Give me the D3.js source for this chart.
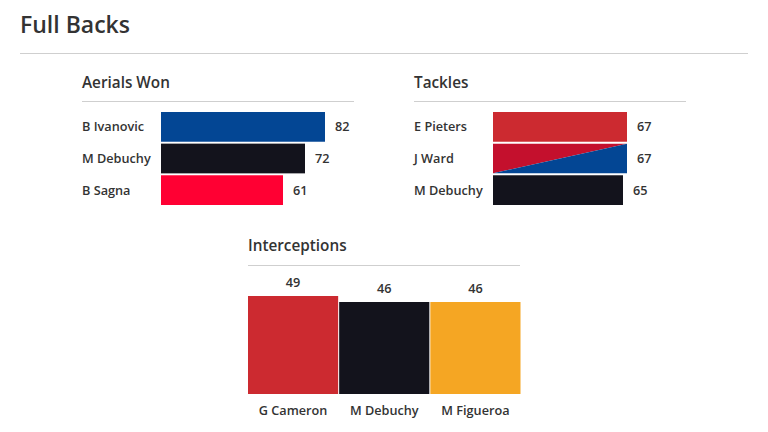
<!DOCTYPE html>
<html><head><meta charset="utf-8">
<script src="https://cdn.jsdelivr.net/npm/d3@7"></script>
<style>
body{margin:0;background:#fff;}
text{font-family:"Open Sans",Lato,sans-serif;}
</style></head>
<body><svg id="c" width="768" height="432"></svg>
<script>
const chartTitle = "Full Backs";
const aerialsTitle = "Aerials Won";
const aerialsPlayers = ["B Ivanovic","M Debuchy","B Sagna"];
const aerialsValues = [82,72,61];
const aerialsColors = ["#034694","#13131c","#ff0033"];
const tacklesTitle = "Tackles";
const tacklesPlayers = ["E Pieters","J Ward","M Debuchy"];
const tacklesValues = [67,67,65];
const tacklesColors = ["#cc2a30",["#c4102d","#034694"],"#13131c"];
const interTitle = "Interceptions";
const interPlayers = ["G Cameron","M Debuchy","M Figueroa"];
const interValues = [49,46,46];
const interColors = ["#cc2a30","#13131c","#f5a623"];

const svg = d3.select("#c");
svg.append("text").attr("x",20).attr("y",33).attr("font-size",23).attr("font-weight",600)
  .attr("fill","#333").text(chartTitle);
svg.append("line").attr("x1",20).attr("x2",748).attr("y1",53.5).attr("y2",53.5)
  .attr("stroke","#cfcfcf").attr("stroke-width",1.2);

function hPanel(x0, title, players, values, colors){
  const g = svg.append("g");
  g.append("text").attr("x",x0).attr("y",88).attr("font-size",15.3).attr("font-weight",600)
    .attr("fill","#333").text(title);
  g.append("line").attr("x1",x0).attr("x2",x0+272).attr("y1",101.5).attr("y2",101.5)
    .attr("stroke","#cfcfcf").attr("stroke-width",1.2);
  const barX = x0+79;
  const x = d3.scaleLinear().domain([0,100]).range([barX, barX+200]);
  const y = d3.scaleBand().domain(players).range([112,205]).paddingInner(0.06);
  players.forEach((p,i)=>{
    const c = colors[i];
    g.append("text").attr("x",x0).attr("y",y(p)+y.bandwidth()/2).attr("dy","0.35em")
      .attr("font-size",12.7).attr("font-weight",600).attr("fill","#333").text(p);
    const w = x(values[i])-x(0), h = y.bandwidth(), top=y(p), left=x(0);
    if(Array.isArray(c)){
      g.append("path").attr("d",`M${left},${top}H${left+w}L${left},${top+h}Z`).attr("fill",c[0]);
      g.append("path").attr("d",`M${left+w},${top}V${top+h}H${left}Z`).attr("fill",c[1]);
    } else {
      g.append("rect").attr("x",left).attr("y",top).attr("width",w)
        .attr("height",h).attr("fill",c);
    }
    g.append("text").attr("x",x(values[i])+10).attr("y",y(p)+y.bandwidth()/2).attr("dy","0.35em")
      .attr("font-size",12.7).attr("font-weight",600).attr("fill","#333").text(values[i]);
  });
}
hPanel(82, aerialsTitle, aerialsPlayers, aerialsValues, aerialsColors);
hPanel(414, tacklesTitle, tacklesPlayers, tacklesValues, tacklesColors);

// Interceptions
const gi = svg.append("g");
gi.append("text").attr("x",248).attr("y",251).attr("font-size",15.3).attr("font-weight",600)
  .attr("fill","#333").text(interTitle);
gi.append("line").attr("x1",248).attr("x2",520).attr("y1",265.5).attr("y2",265.5)
  .attr("stroke","#cfcfcf").attr("stroke-width",1.2);
const xi = d3.scaleBand().domain(interPlayers).range([248,520.5]).paddingInner(0.011);
const yi = d3.scaleLinear().domain([0,100]).range([394,194]);
interPlayers.forEach((p,i)=>{
  gi.append("rect").attr("x",xi(p)).attr("y",yi(interValues[i])).attr("width",xi.bandwidth())
    .attr("height",yi(0)-yi(interValues[i])).attr("fill",interColors[i]);
  gi.append("text").attr("x",xi(p)+xi.bandwidth()/2).attr("y",yi(interValues[i])-9)
    .attr("text-anchor","middle").attr("font-size",12.7).attr("font-weight",600).attr("fill","#333")
    .text(interValues[i]);
  gi.append("text").attr("x",xi(p)+xi.bandwidth()/2).attr("y",415)
    .attr("text-anchor","middle").attr("font-size",12.7).attr("font-weight",600).attr("fill","#333")
    .text(p);
});
</script></body></html>
